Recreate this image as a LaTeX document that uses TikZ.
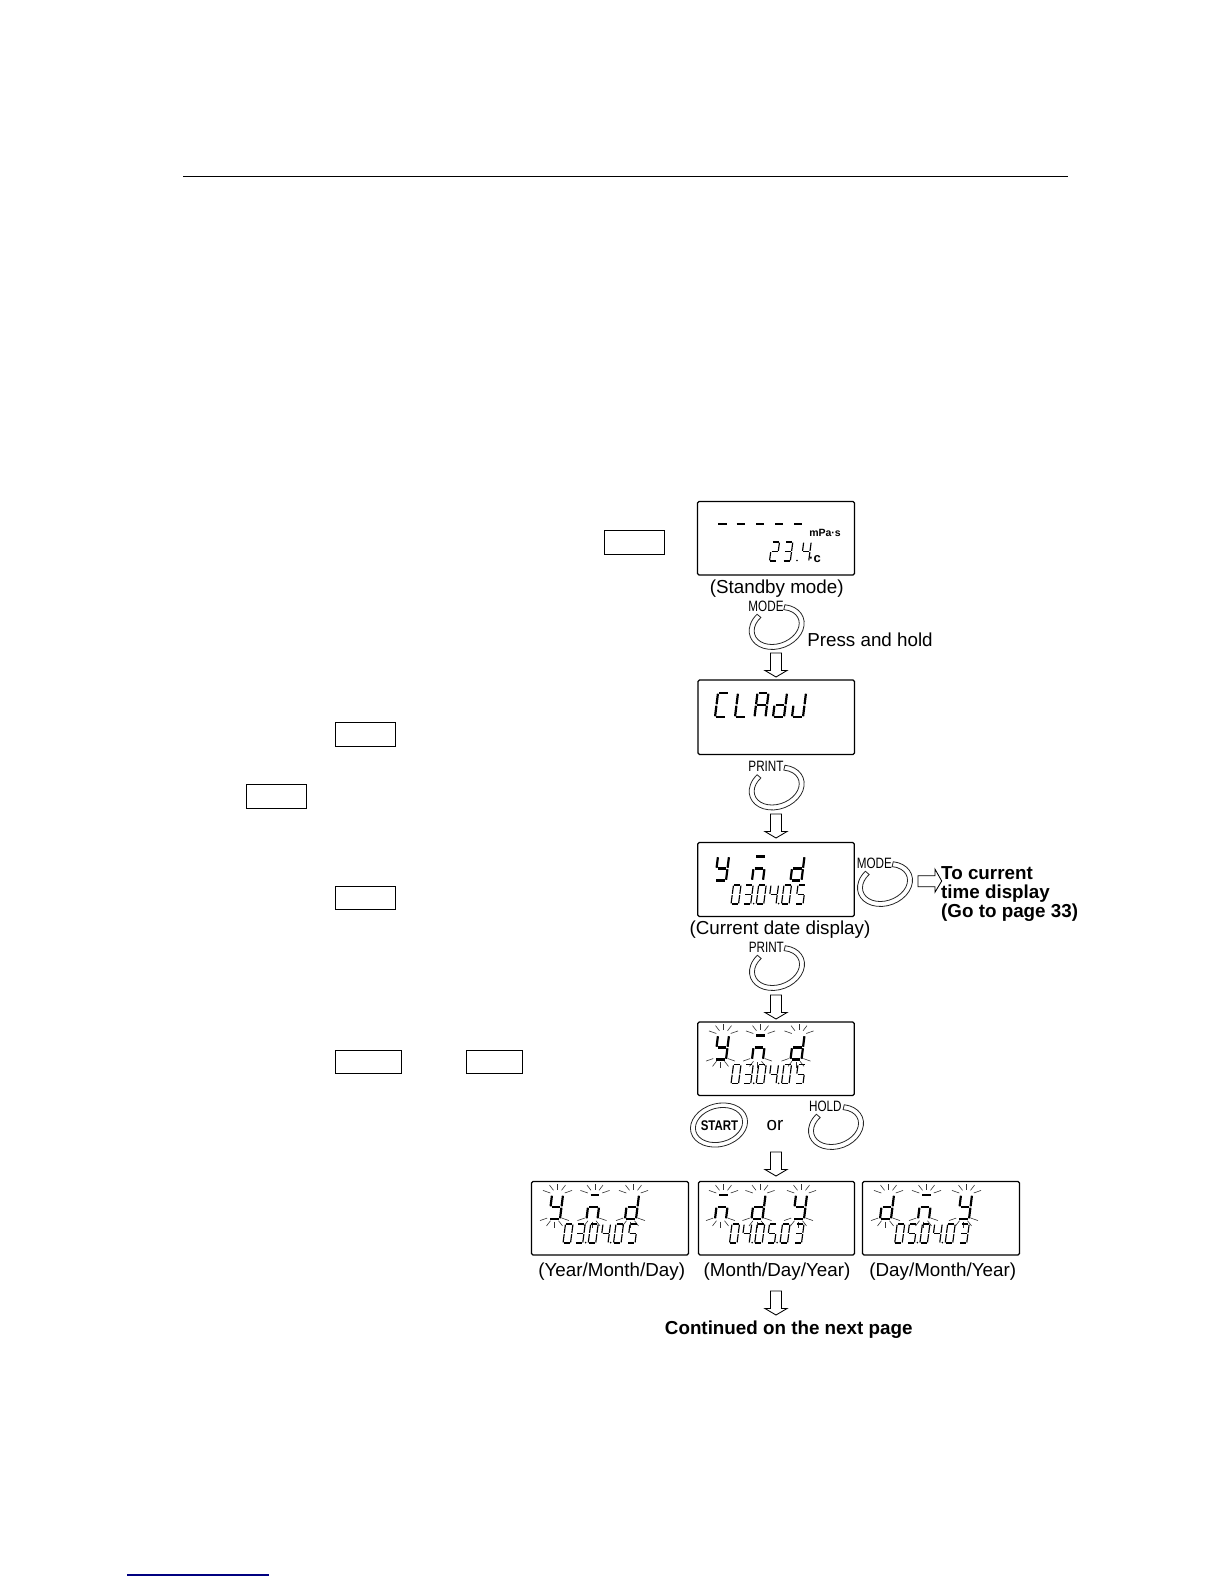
\documentclass[tikz,border=0pt]{standalone}
\usepackage{fontspec}
\setmainfont{Liberation Sans}
\newfontfamily\narrowf[FakeStretch=0.78]{Liberation Sans}
\newfontfamily\startf[FakeStretch=0.82]{Liberation Sans}
\def\Sega{\draw (.1,0)--(.9,0);}
\def\Segb{\draw (1,.03)--(1,.47);}
\def\Segc{\draw (1,.53)--(1,.97);}
\def\Segd{\draw (.1,1)--(.9,1);}
\def\Sege{\draw (0,.53)--(0,.97);}
\def\Segf{\draw (0,.03)--(0,.47);}
\def\Segg{\draw (.1,.5)--(.9,.5);}
\newcommand\lcdg[7]{\begin{scope}[shift={(#1,#2)},x={(#3pt,0pt)},y={(-#5pt,-#4pt)},line width=#6]\foreach \s in #7 {\csname Seg\s\endcsname}\end{scope}}
\def\GY{b,c,d,f,g}\def\GM{a,g,e,c}\def\GD{b,c,d,e,g}
\def\GC{a,d,e,f}\def\GL{d,e,f}\def\GA{a,b,c,e,f,g}\def\GJ{b,c,d,e}
\def\Dz{a,b,c,d,e,f}\def\Dt{a,b,g,e,d}\def\Dh{a,b,c,d,g}\def\Df{b,c,f,g}\def\Dv{a,c,d,f,g}
\newcommand\bigseg[3]{\lcdg{#1}{#2}{11}{24}{3}{2.2pt}{#3}}
\newcommand\tinyseg[3]{\lcdg{#1}{#2}{7.5}{19}{2.5}{1.15pt}{#3}}
\newcommand\dateline[8]{\tinyseg{#1-1.5}{#2}{#3}\tinyseg{#1+10.7}{#2}{#4}\tinyseg{#1+23.7}{#2}{#5}\tinyseg{#1+36}{#2}{#6}\tinyseg{#1+49}{#2}{#7}\tinyseg{#1+63}{#2}{#8}%
 \fill (#1+18.7,#2+18.6) circle (.9);\fill (#1+43.6,#2+18.6) circle (.9);}
\newcommand\flash[2]{\begin{scope}[line width=.6pt,draw=black!80]
 \foreach \a in {205,240,270,300,335} {\draw (#1+5.5,#2+.5)++(\a:8 and 6)--++(\a:8 and 6);}
 \foreach \a in {25,60,90,120,155} {\draw (#1+2.5,#2+20.5)++(\a:8 and 6)--++(\a:8 and 6);}
\end{scope}}
\newcommand\flashglyph[3]{\flash{#1}{#2}\bigseg{#1}{#2}{#3}}
\newcommand\arrowdown[3]{\coordinate (#1) at (#2,#3);
 \draw[hollow] (#1) ++(-5.5,0) -- ++(11,0) -- ++(0,17.5) -- ++(5.5,0) -- ++(-11,6.5) -- ++(-11,-6.5) -- ++(5.5,0) -- cycle;}
\newcommand\keyring[4]{\coordinate (#1) at (#2,#3);
 \draw[ringline,shift={(#1)},rotate=20] (-57:28.2 and 21.6) arc[start angle=-57,end angle=240,x radius=28.2,y radius=21.6] -- (240:23.2 and 16.6) arc[start angle=240,end angle=-57,x radius=23.2,y radius=16.6] -- cycle;
 \node[keylabel] (#1l) at (#2-10.7,#3-21) {#4};}
\tikzset{
 hollow/.style={draw=black,fill=white,line width=.85pt,line join=miter},
 lcdbox/.style={draw=black,line width=1.3pt,rounded corners=1.5pt},
 keybox/.style={draw=black,line width=1pt},
 ringline/.style={draw=black!85,line width=.8pt},
 keylabel/.style={font=\narrowf\fontsize{15}{15}\selectfont,inner sep=0pt},
 captext/.style={font=\fontsize{18.8}{18.8}\selectfont,inner sep=0pt},
 boldcap/.style={font=\bfseries\fontsize{18.8}{18.8}\selectfont,inner sep=0pt},
}
\begin{document}
\begin{tikzpicture}[x=1pt,y=-1pt]
\useasboundingbox (0,0) rectangle (1224,1584);
\coordinate (ruleL) at (183,176.7);\coordinate (ruleR) at (1068,176.7);
\draw[line width=1.1pt] (ruleL) -- (ruleR);
\coordinate (linkL) at (127,1575);\coordinate (linkR) at (269,1575);
\draw[line width=1.1pt,color=blue!50!black] (linkL) -- (linkR);
% left key boxes
\draw[keybox] (604,530) rectangle (664.5,554.5);
\draw[keybox] (335,722) rectangle (395.7,746.5);
\draw[keybox] (246.3,784) rectangle (306.5,808.5);
\draw[keybox] (335,886) rectangle (395.7,909.5);
\draw[keybox] (335,1050) rectangle (401.5,1073.5);
\draw[keybox] (466,1050) rectangle (522.5,1073.5);
% LCD frames
\draw[lcdbox] (697.5,501.5) rectangle (854.5,575);
\draw[lcdbox] (698,680) rectangle (854.5,754.5);
\draw[lcdbox] (697.7,842.5) rectangle (854.3,916.5);
\draw[lcdbox] (697.7,1022) rectangle (854.3,1095.5);
\draw[lcdbox] (531.5,1181.5) rectangle (688.5,1255);
\draw[lcdbox] (698.5,1181.5) rectangle (854.5,1255);
\draw[lcdbox] (862.5,1181.5) rectangle (1019.5,1255);
% standby
\foreach \a/\b in {718/726.7,736.7/745,756/764,775/783,794/801.7} {\draw[line width=2.2pt] (\a,524)--(\b,524);}
\node[font=\bfseries\fontsize{10.5}{10.5}\selectfont,inner sep=0pt] (unit1) at (825,532.5) {mPa·s};
\tinyseg{772}{542}{\Dt}\tinyseg{785.3}{542}{\Dh}\tinyseg{803.7}{542}{\Df}
\fill (797,560.5) circle (.9);
\node[font=\bfseries\fontsize{13}{13}\selectfont,inner sep=0pt] (unit2) at (815,559.5) {·c};
% CLAdJ
\bigseg{718}{693}{\GC}\bigseg{738}{693}{\GL}\bigseg{757.5}{693}{\GA}\bigseg{776}{693}{\GD}\bigseg{795}{693}{\GJ}
% y m d
\bigseg{718}{856.5}{\GY}\bigseg{755}{856.5}{\GM}\bigseg{793.5}{856.5}{\GD}
\dateline{735}{885}{\Dz}{\Dh}{\Dz}{\Df}{\Dz}{\Dv}
% flashing y m d
\flashglyph{718}{1035.5}{\GY}\flashglyph{755}{1035.5}{\GM}\flashglyph{793.5}{1035.5}{\GD}
\dateline{735}{1064.7}{\Dz}{\Dh}{\Dz}{\Df}{\Dz}{\Dv}
% bottom row
\flashglyph{552}{1195}{\GY}\flashglyph{589.5}{1195}{\GM}\flashglyph{628}{1195}{\GD}
\dateline{567}{1224}{\Dz}{\Dh}{\Dz}{\Df}{\Dz}{\Dv}
\flashglyph{718}{1195}{\GM}\flashglyph{754.5}{1195}{\GD}\flashglyph{796}{1195}{\GY}
\dateline{733.5}{1224}{\Dz}{\Df}{\Dz}{\Dv}{\Dz}{\Dh}
\flashglyph{883}{1195}{\GD}\flashglyph{921}{1195}{\GM}\flashglyph{961}{1195}{\GY}
\dateline{898.7}{1224}{\Dz}{\Dv}{\Dz}{\Df}{\Dz}{\Dh}
% keys
\keyring{k1}{776.7}{627}{MODE}
\keyring{k2}{776.7}{787.5}{PRINT}
\keyring{k3}{885}{884}{MODE}
\keyring{k4}{777}{968}{PRINT}
\keyring{k5}{836}{1127}{HOLD}
\coordinate (k6) at (719,1125);
\draw[ringline,rotate around={15:(k6)}] (k6) ellipse[x radius=29,y radius=21.5];
\draw[ringline,rotate around={15:(k6)}] (k6) ellipse[x radius=24,y radius=17];
\node[font=\startf\bfseries\fontsize{14}{14}\selectfont,inner sep=0pt] (k6l) at (719.5,1126) {START};
% arrows
\arrowdown{a1}{776}{653}
\arrowdown{a2}{776}{814}
\arrowdown{a3}{776}{995}
\arrowdown{a4}{776}{1152}
\arrowdown{a5}{776}{1291}
\coordinate (a6) at (918,875.7);
\draw[hollow] (a6) -- ++(17,0) -- ++(0,-6.5) -- ++(6.7,11.8) -- ++(-6.7,11.2) -- ++(0,-5.5) -- ++(-17,0) -- cycle;
% captions
\node[captext] (c1) at (776.7,589) {(Standby mode)};
\node[captext] (c2) at (870,640) {Press and hold};
\node[captext] (c3) at (780,930) {(Current date display)};
\node[captext] (c4) at (775,1126) {or};
\node[captext] (c5) at (611.7,1271.5) {(Year/Month/Day)};
\node[captext] (c6) at (777,1271.5) {(Month/Day/Year)};
\node[captext] (c7) at (942.7,1271.5) {(Day/Month/Year)};
\node[boldcap] (c8) at (788.7,1329.5) {Continued on the next page};
\node[boldcap,anchor=base west] (c9) at (941,879.5) {To current};
\node[boldcap,anchor=base west] (c10) at (941,898.5) {time display};
\node[boldcap,anchor=base west] (c11) at (941,917.5) {(Go to page 33)};
\end{tikzpicture}
\end{document}
